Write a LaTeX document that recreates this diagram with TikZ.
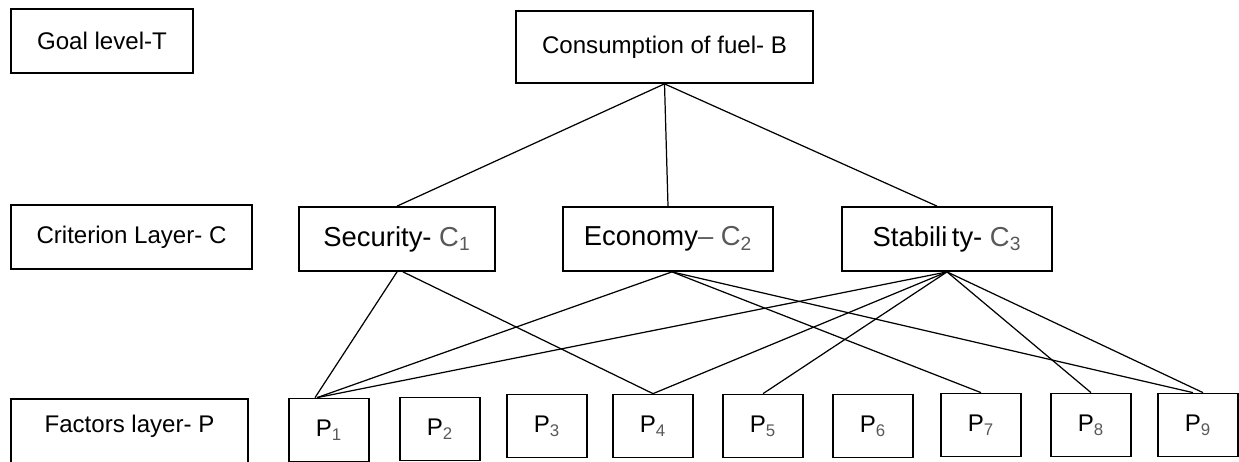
\documentclass[tikz,border=0pt]{standalone}
\usepackage{fontspec}
\setmainfont{Liberation Sans}
\newcommand\lite[1]{\textcolor{black!65}{#1}}
\tikzset{
	layerbox/.style={draw, line width=1pt, inner sep=0pt, minimum height=1.28cm, font=\fontsize{13.7}{16}\selectfont},
	critbox/.style={layerbox, minimum width=#1, font=\fontsize{15.6}{18}\selectfont},
	pbox/.style={draw, line width=1pt, inner sep=0pt, minimum width=1.6cm, minimum height=1.26cm, font=\fontsize{13.7}{16}\selectfont},
	link/.style={line width=0.7pt}
}
\begin{document}
\begin{tikzpicture}[x=0.02cm, y=-0.02cm]
		\clip (0,0) rectangle (1239,461);
		% layer names
		\node[layerbox, minimum width=3.64cm] (goal) at (102,41) {Goal level-T};
		\node[layerbox, minimum width=4.82cm] (crit) at (131.5,237) {Criterion Layer- C};
		\node[layerbox, minimum width=4.74cm, text depth=0.3cm] (fact) at (129.5,431) {Factors layer- P};
		% goal and criteria
		\node[layerbox, minimum width=5.94cm, minimum height=1.44cm] (fuel) at (664.5,47) {Consumption of fuel- B};
		\node[critbox=3.92cm] (sec) at (397,239) {Security- \lite{C\textsubscript{1}}};
		\node[critbox=4.2cm] (eco) at (668,239) {Economy\lite{--} \lite{C\textsubscript{2}}};
		\node[critbox=4.2cm] (sta) at (947,239) {Stabili\,ty- \lite{C\textsubscript{3}}};
		% factors
		\foreach \i/\cx/\cy in {1/329/430, 2/440/429, 3/547/426, 4/653/426, 5/763/426, 6/873/426, 7/981/425, 8/1091/425, 9/1198/425}
			\node[pbox] (p\i) at (\cx,\cy) {P\lite{\textsubscript{\i}}};
		% links
		\draw[link] (fuel.south) -- (sec.north);
		\draw[link] (fuel.south) -- (eco.north);
		\draw[link] (fuel.south) -- ([xshift=-0.2cm]sta.north);
		\draw[link] (sec.south) -- ([xshift=-0.28cm]p1.north);
		\draw[link] ([xshift=0.12cm]sec.south) -- (p4.north);
		\draw[link] ([xshift=0.08cm]eco.south) -- ([xshift=-0.24cm]p1.north);
		\draw[link] ([xshift=0.08cm]eco.south) -- (p7.north);
		\draw[link] ([xshift=0.08cm]eco.south) -- ([xshift=-0.1cm]p9.north);
		\draw[link] (sta.south) -- ([xshift=-0.24cm]p1.north);
		\draw[link] (sta.south) -- (p4.north);
		\draw[link] (sta.south) -- (p5.north);
		\draw[link] (sta.south) -- (p8.north);
		\draw[link] (sta.south) -- ([xshift=0.1cm]p9.north);
\end{tikzpicture}
\end{document}
